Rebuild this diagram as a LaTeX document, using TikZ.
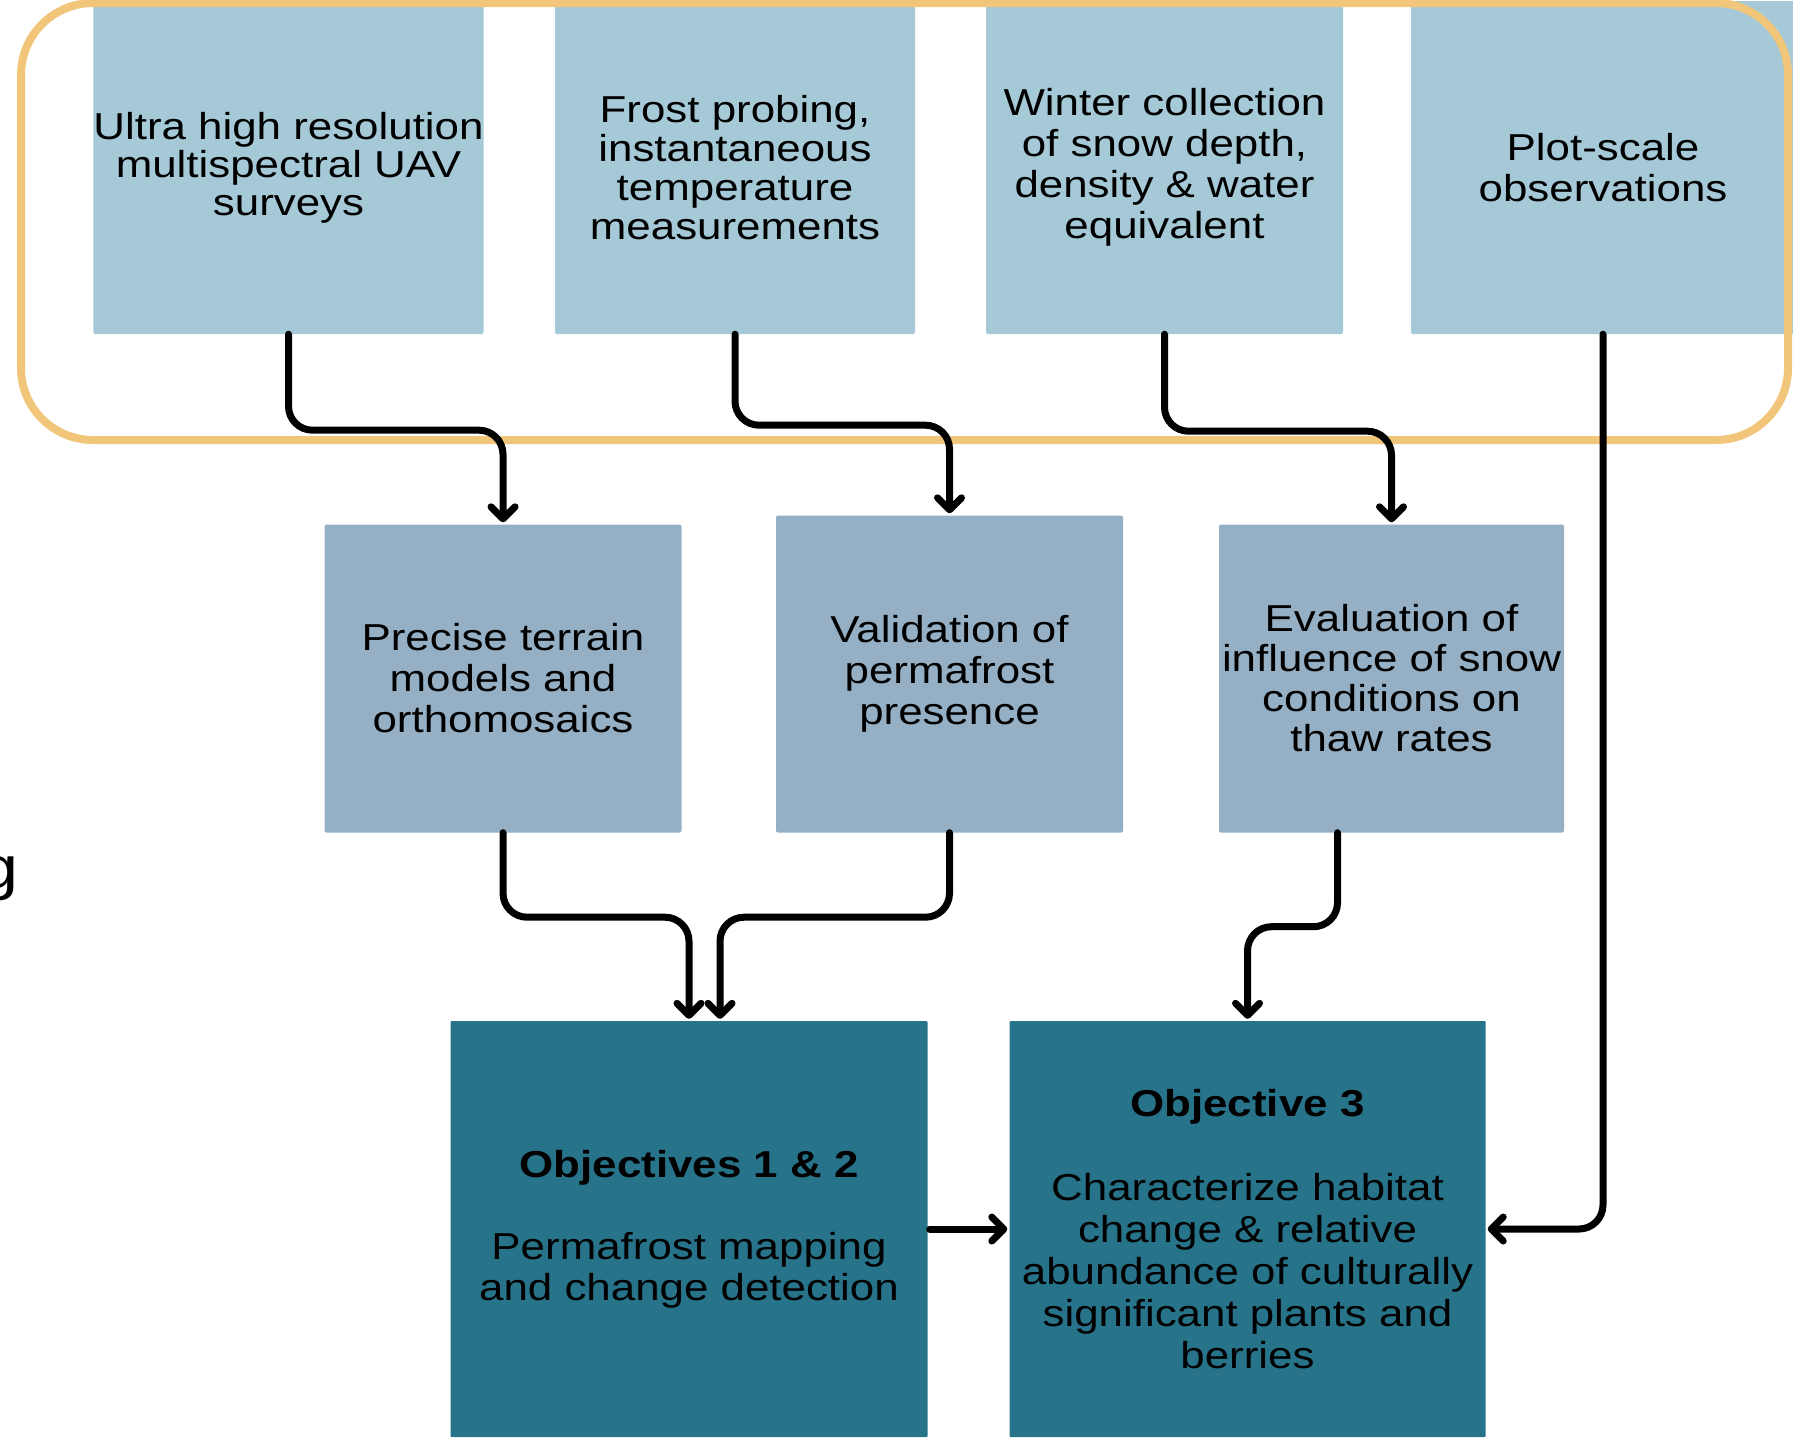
\documentclass[tikz,border=0pt]{standalone}
\usepackage{fontspec}
\setmainfont{Liberation Sans}[FakeStretch=1.17]
\usetikzlibrary{arrows.meta}
\definecolor{srcblue}{RGB}{165,201,215}
\definecolor{midblue}{RGB}{149,176,197}
\definecolor{objteal}{RGB}{39,115,138}
\definecolor{frameorange}{RGB}{241,197,122}

\tikzset{
    databox/.style={fill=srcblue, rounded corners=2pt, inner sep=0pt, align=center,
        font=\fontsize{37.5}{41}\selectfont},
    resultbox/.style={databox, fill=midblue},
    objbox/.style={databox, fill=objteal, rounded corners=1pt},
    flow/.style={line width=7pt, line cap=round, rounded corners=24pt,
        -{Straight Barb[length=12pt, width=24pt, round]}, shorten >=2pt},
}

\begin{document}
\begin{tikzpicture}[x=1pt, y=-1pt]
    \useasboundingbox (0,0) rectangle (1793,1440);
    \clip (0,0) rectangle (1793,1440);

    % data sources
    \node [databox, minimum width=389pt, minimum height=333pt, font=\fontsize{37.5}{38}\selectfont]
        (uav) at (288.5,167.5) {Ultra high resolution\\multispectral UAV\\surveys};
    \node [databox, minimum width=360pt, minimum height=333pt, font=\fontsize{37.5}{39}\selectfont]
        (frost) at (735,167.5) {Frost probing,\\instantaneous\\temperature\\measurements};
    \node [databox, minimum width=357pt, minimum height=333pt]
        (snow) at (1164.5,167.5) {Winter collection\\of snow depth,\\density \& water\\equivalent};
    \node [databox, minimum width=384pt, minimum height=333pt]
        (plot) at (1603,167.5) {Plot-scale\\observations};

    % intermediate products
    \node [resultbox, minimum width=357pt, minimum height=308pt]
        (terrain) at (503,678.5) {Precise terrain\\models and\\orthomosaics};
    \node [resultbox, minimum width=347pt, minimum height=317pt]
        (valid) at (949.5,674) {Validation of\\permafrost\\presence};
    \node [resultbox, minimum width=345pt, minimum height=308pt, font=\fontsize{37.5}{40}\selectfont]
        (eval) at (1391.5,678.5) {Evaluation of\\influence of snow\\conditions on\\thaw rates};

    % objectives
    \node [objbox, minimum width=477pt, minimum height=416pt]
        (obj12) at (689,1229) {\textbf{Objectives 1 \& 2}\\[41pt]Permafrost mapping\\and change detection};
    \node [objbox, minimum width=476pt, minimum height=416pt, font=\fontsize{37.5}{42}\selectfont]
        (obj3) at (1247.5,1229) {\textbf{Objective 3}\\[42pt]Characterize habitat\\change \& relative\\abundance of culturally\\significant plants and\\berries};

    \node [font=\fontsize{60}{60}\selectfont, inner sep=0pt, anchor=base east] (cut) at (19,888) {g};

    % field data group
    \draw [frameorange, line width=8pt, rounded corners=72pt] (21,3) rectangle (1788,440);

    \draw [flow] (uav.south) -- ++(0,96) -| (terrain.north);
    \draw [flow] (frost.south) -- ++(0,91) -| (valid.north);
    \draw [flow] (snow.south) -- ++(0,97) -| (eval.north);
    \draw [flow] (plot.south) |- (obj3.east);
    \draw [flow] (terrain.south) -- ++(0,84.5) -| (obj12.north);
    \draw [flow] (valid.south) -- ++(0,84.5) -| ([xshift=31pt]obj12.north);
    \draw [flow] ([xshift=-54pt]eval.south) -- ++(0,94) -| (obj3.north);
    \draw [flow, shorten <=2pt] (obj12.east) -- (obj3.west);
\end{tikzpicture}
\end{document}
